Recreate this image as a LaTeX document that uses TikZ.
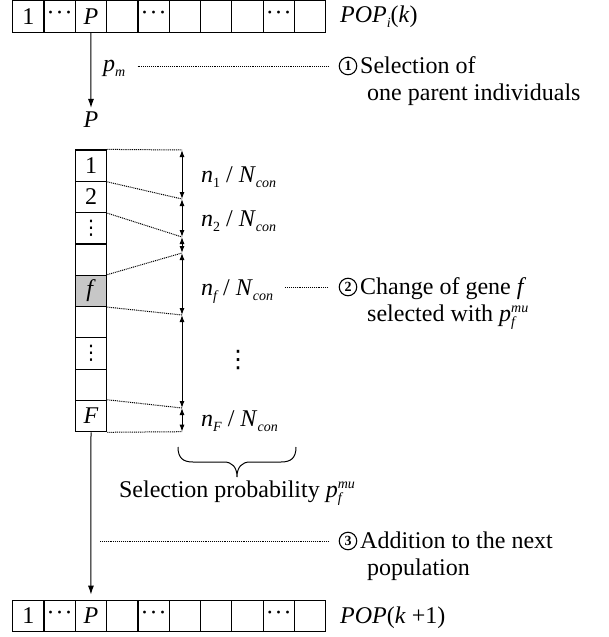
\documentclass[tikz,border=0pt]{standalone}
\usepackage{fontspec}
\setmainfont{Liberation Serif}
\newfontfamily\dvsans{DejaVu Sans}
\usetikzlibrary{arrows.meta}
\newcommand\subi[1]{\raisebox{-5pt}{\fontsize{14}{14}\selectfont\itshape #1}}
\newcommand\subu[1]{\raisebox{-5pt}{\fontsize{14}{14}\selectfont #1}}
\newcommand\hdt{\textperiodcentered\kern1pt\textperiodcentered\kern1pt\textperiodcentered}
\newcommand\vdt[1]{{\dvsans\fontsize{#1}{#1}\selectfont ⋮}}
\newcommand\pfmu{\textit{p}\rlap{\raisebox{-5pt}{\fontsize{14}{14}\selectfont\itshape f}}\raisebox{9pt}{\fontsize{14}{14}\selectfont\itshape mu}}
\tikzset{
  cell/.style={draw, line width=1.2pt, minimum width=31.3pt, minimum height=31.6pt, inner sep=0pt},
  vcell/.style={draw, line width=1.2pt, minimum width=31.7pt, minimum height=31.3pt, inner sep=0pt},
  lab/.style={inner sep=2pt},
  arr/.style={-{Latex[length=9pt,width=6pt]}, line width=1pt},
  darr/.style={{Latex[length=7pt,width=5pt]}-{Latex[length=7pt,width=5pt]}, line width=1pt},
  dotln/.style={line width=1pt, dash pattern=on 1pt off 0.9pt},
  circnum/.style={circle, draw, line width=1.1pt, minimum size=17.5pt, inner sep=0pt, font=\fontsize{14}{14}\selectfont\bfseries},
}
\begin{document}
\begin{tikzpicture}[x=1pt,y=-1pt,font=\fontsize{24}{28}\selectfont]
\useasboundingbox (0,0) rectangle (608,637);
% top population row
\foreach \i/\t in {0/1,1/\hdt,2/\textit{P},3/,4/\hdt,5/,6/,7/,8/\hdt,9/}
  \node[cell] (t\i) at ({12.7+31.3*(\i+0.5)},16.3) {\t};
\node[lab, anchor=base west] (popk) at (338,23) {\textit{POP}\subi{i}(\textit{k})};
% bottom population row
\foreach \i/\t in {0/1,1/\hdt,2/\textit{P},3/,4/\hdt,5/,6/,7/,8/\hdt,9/}
  \node[cell] (b\i) at ({12.7+31.3*(\i+0.5)},616) {\t};
\node[lab, anchor=base west] (popk1) at (338,623) {\textit{POP}(\textit{k} +1)};
% selected parent
\node[lab, inner sep=4pt] (plab) at (91,120) {\textit{P}};
\draw[arr] (t2.south) -- (plab.north);
\node[lab, anchor=base west] (pm) at (101,71) {\textit{p}\subi{m}};
% gene column
\foreach \j/\t in {0/1,1/2,2/\vdt{20},3/,4/\textit{f},5/,6/\vdt{20},7/,8/\textit{F}}
  \node[vcell] (c\j) at (91,{150+31.3*(\j+0.5)}) {\t};
\fill[black!22] (c4.north west) ++(0.6,0.6) rectangle ([shift={(-0.6,-0.6)}]c4.south east);
\node[vcell] at (c4) {\textit{f}};
% measuring arrows
\coordinate (m0) at (182,150);
\coordinate (m1) at (182,199);
\coordinate (m2) at (182,237);
\coordinate (m3) at (182,253);
\coordinate (m4) at (182,315);
\coordinate (m5) at (182,408);
\coordinate (m6) at (182,431.7);
\draw[darr] (m0) -- (m1);
\draw[darr] (m1) -- (m2);
\draw[darr] (m2) -- (m3);
\draw[darr] (m3) -- (m4);
\draw[darr] (m4) -- (m5);
\draw[darr] (m5) -- (m6);
\draw[dotln] (c0.north east) -- (m0);
\draw[dotln] (c0.south east) -- (m1);
\draw[dotln] (c1.south east) -- (m2);
\draw[dotln] (c4.north east) -- (m3);
\draw[dotln] (c4.south east) -- (m4);
\draw[dotln] (c8.north east) -- (m5);
\draw[dotln] (c8.south east) -- (m6);
% ratio labels
\node[lab, anchor=base west] (r1) at (199,182) {\textit{n}\subu{1} / \textit{N}\subi{con}};
\node[lab, anchor=base west] (r2) at (199,226) {\textit{n}\subu{2} / \textit{N}\subi{con}};
\node[lab, anchor=base west] (rf) at (199,295) {\textit{n}\subi{f} / \textit{N}\subi{con}};
\node[lab] (rd) at (238,360) {\vdt{24}};
\node[lab, anchor=base west] (rF) at (199,426) {\textit{n}\subi{F} / \textit{N}\subi{con}};
% brace
\draw[line width=1pt] (178,447) .. controls (178,458) and (183,462) .. (193,462) -- (224,462)
  .. controls (232,462) and (237,467) .. (237,477)
  .. controls (237,467) and (242,462) .. (250,462) -- (281,462)
  .. controls (291,462) and (296,458) .. (296,447);
\node[lab, anchor=base] (selp) at (237,497) {Selection probability \pfmu};
% arrow to next population
\draw[arr, shorten >=5pt] (c8.south) -- (b2.north);
% step annotations
\node[circnum] (k1) at (348,66) {1};
\node[lab, anchor=base west] (s1a) at (358,73) {Selection of};
\node[lab, anchor=base west] (s1b) at (365,100) {one parent individuals};
\draw[dotln] ([xshift=10pt]pm.east |- k1) -- ([xshift=-10pt]k1.west);
\node[circnum] (k2) at (348,287) {2};
\node[lab, anchor=base west] (s2a) at (358,294) {Change of gene \textit{f}};
\node[lab, anchor=base west] (s2b) at (365,321) {selected with \pfmu};
\draw[dotln] ([xshift=10pt]rf.east |- k2) -- ([xshift=-10pt]k2.west);
\node[circnum] (k3) at (348,541) {3};
\node[lab, anchor=base west] (s3a) at (358,548) {Addition to the next};
\node[lab, anchor=base west] (s3b) at (365,575) {population};
\coordinate (d3) at (100,541);
\draw[dotln] (d3) -- ([xshift=-10pt]k3.west);
\end{tikzpicture}
\end{document}
